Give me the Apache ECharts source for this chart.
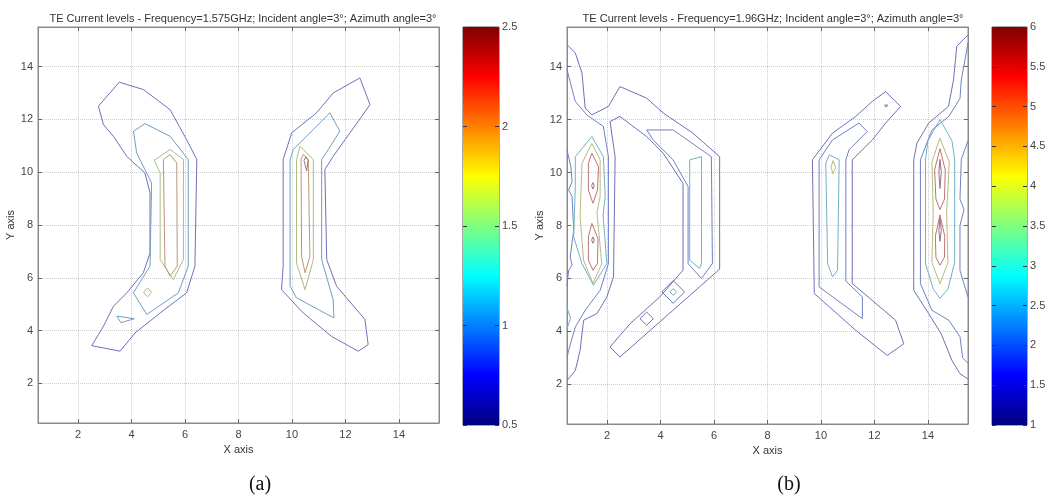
<!DOCTYPE html>
<html>
<head>
<meta charset="utf-8">
<title>TE Current levels</title>
<script src="https://cdn.jsdelivr.net/npm/echarts@6/dist/echarts.min.js"></script>
<style>
html, body { margin: 0; padding: 0; background: #fff; }
#main { width: 1050px; height: 495px; }
</style>
</head>
<body>
<div id="main"></div>
<script>
// axis ticks / colour bar ranges
const axisTicks = [2, 4, 6, 8, 10, 12, 14];
const cbRangeA = [0.5, 2.5];
const cbRangeB = [1, 6];

const titleA = 'TE Current levels - Frequency=1.575GHz; Incident angle=3°; Azimuth angle=3°';
const titleB = 'TE Current levels - Frequency=1.96GHz; Incident angle=3°; Azimuth angle=3°';

// ---- panel (a) contour paths (x, y in axis units)
const aL1 = [[3.54,13.41],[2.76,12.50],[2.95,11.80],[3.32,11.36],[3.82,10.60],[4.50,9.97],[4.69,9.22],[4.69,6.94],[4.44,6.19],[3.82,5.43],[3.32,4.92],[2.95,4.17],[2.51,3.43],[3.57,3.22],[4.13,3.91],[5.07,4.67],[6.06,5.43],[6.37,6.44],[6.44,10.48],[6.06,11.23],[5.44,12.37],[4.44,13.13]];
const aL2 = [[4.07,11.55],[4.50,11.84],[5.44,11.36],[6.12,10.48],[6.12,6.44],[5.75,5.43],[4.57,4.61],[4.07,5.43],[4.69,6.44],[4.75,9.59],[4.19,10.73]];
const aL3 = [[5.44,10.86],[5.94,10.48],[5.94,6.69],[5.56,5.93],[5.07,6.69],[5.07,9.97],[4.85,10.45]];
const aL4 = [[5.44,10.67],[5.69,10.35],[5.71,6.44],[5.44,6.06],[5.25,6.44],[5.19,10.48]];
const aLsmall = [[4.45,5.45],[4.6,5.62],[4.75,5.45],[4.6,5.28]];
const aLtri = [[3.45,4.55],[4.1,4.45],[3.6,4.3]];
const aR1 = [[12.54,13.57],[12.92,12.56],[12.17,11.49],[11.54,10.60],[11.23,10.10],[11.30,6.69],[11.67,5.68],[12.73,4.42],[12.85,3.47],[12.48,3.22],[11.48,3.78],[10.42,4.67],[9.61,5.55],[9.67,6.44],[9.67,10.48],[9.99,11.49],[10.92,12.25],[11.54,13.00]];
const aR2 = [[11.42,12.25],[11.79,11.55],[11.36,10.86],[11.11,10.48],[11.11,6.69],[11.54,5.17],[11.57,4.48],[10.17,5.24],[9.93,5.68],[9.93,10.48],[10.05,10.86]];
const aR3 = [[10.30,10.98],[10.80,10.48],[10.80,6.69],[10.49,5.55],[10.17,6.56],[10.17,10.48]];
const aR4 = [[10.42,10.67],[10.61,10.48],[10.67,6.81],[10.49,6.19],[10.36,6.81],[10.34,10.48]];
const aR5 = [[10.45,10.45],[10.52,10.58],[10.6,10.45],[10.55,10.05],[10.5,10.05]];

// ---- panel (b) contour paths
const bL1 = [[0.5,14.83],[0.81,14.52],[1.06,13.76],[1.18,12.44],[1.43,12.18],[2.05,12.50],[2.48,13.25],[3.48,12.81],[4.10,12.25],[5.21,11.49],[6.21,10.60],[6.21,6.35],[2.48,3.03],[2.11,3.41],[2.86,4.29],[3.97,5.30],[4.84,6.31],[4.84,9.59],[4.10,10.73],[3.48,11.36],[2.48,12.12],[2.11,11.93],[2.30,10.60],[2.24,6.06],[1.99,5.30],[1.62,4.67],[1.12,4.42],[0.99,3.28],[0.81,2.52],[0.5,2.14]];
const bL2 = [[0.5,13.89],[0.81,12.69],[1.24,12.18],[1.86,11.74],[2.05,10.60],[2.05,6.56],[1.74,5.55],[1.18,4.80],[0.81,4.16],[0.56,3.28],[0.5,3.0]];
const bLedge = [[0.5,10.85],[0.65,10.2],[0.69,9.66],[0.56,9.34],[0.69,9.1],[0.75,7.82],[0.62,6.81],[0.69,6.5],[0.56,6.3],[0.5,5.7]];
const bLsmall = [[0.5,4.9],[0.63,4.5],[0.5,4.1]];
const bL3 = [[1.43,11.36],[1.86,10.60],[1.93,9.09],[1.85,8.4],[1.99,6.56],[1.49,5.74],[1.06,6.56],[0.75,7.57],[0.81,9.47],[0.81,10.60]];
const bL4 = [[1.43,11.1],[1.74,10.48],[1.74,9.09],[1.62,8.5],[1.80,6.56],[1.47,5.81],[1.12,6.69],[0.99,8.33],[1.06,10.35]];
const bL5 = [[1.43,10.73],[1.68,10.22],[1.64,9.34],[1.47,8.84],[1.30,9.34],[1.30,10.35]];
const bL6 = [[1.43,8.08],[1.66,7.5],[1.64,6.56],[1.47,6.31],[1.30,6.69],[1.30,7.57]];
const bL7 = [[1.47,9.62],[1.52,9.5],[1.47,9.38],[1.42,9.5]];
const bL8 = [[1.47,7.57],[1.52,7.45],[1.47,7.33],[1.42,7.45]];
const bD2 = [[3.48,11.61],[4.47,11.61],[5.90,10.60],[5.94,6.56],[5.53,6.0],[5.03,6.56],[5.03,9.47],[4.47,10.48],[3.73,11.23]];
const bD3 = [[5.09,10.48],[5.53,10.60],[5.53,6.56],[5.46,6.38],[5.09,6.69]];
const bDia1 = [[4.05,5.49],[4.47,5.92],[4.9,5.49],[4.47,5.06]];
const bDia1in = [[4.35,5.49],[4.47,5.62],[4.6,5.49],[4.47,5.36]];
const bDia2 = [[3.23,4.48],[3.48,4.73],[3.73,4.48],[3.48,4.23]];
const bM1 = [[12.42,13.06],[12.98,12.50],[12.42,11.87],[11.92,11.23],[11.17,10.48],[11.17,5.81],[12.79,4.42],[13.10,3.53],[12.48,3.09],[11.30,4.04],[9.75,5.43],[9.68,10.48],[10.43,11.49],[11.30,12.12],[11.92,12.69]];
const bM2 = [[11.42,11.87],[11.73,11.55],[11.05,10.86],[10.93,10.48],[10.93,5.9],[11.55,5.30],[11.55,4.48],[9.93,5.68],[9.93,10.48],[10.43,11.23]];
const bM3 = [[10.31,10.67],[10.68,10.48],[10.62,6.31],[10.43,6.06],[10.25,6.56],[10.18,10.35]];
const bM4 = [[10.45,10.45],[10.55,10.2],[10.45,9.95],[10.38,10.2]];
const bMdot = [[12.38,12.55],[12.44,12.62],[12.5,12.55],[12.44,12.47]];
const bR1 = [[15.5,15.2],[15.08,14.77],[14.96,13.51],[14.77,12.50],[14.03,11.87],[13.59,11.11],[13.47,10.48],[13.47,5.55],[14.03,4.67],[14.5,3.9],[14.9,2.9],[15.2,2.4],[15.5,2.2]];
const bR2 = [[15.5,14.9],[15.25,13.5],[15.2,12.8],[14.78,12.12],[14.15,11.61],[13.72,10.48],[13.72,5.81],[14.15,4.80],[14.78,4.42],[15.2,3.8],[15.3,3.0],[15.5,2.8]];
const bRedge = [[15.5,11.2],[15.25,10.5],[15.2,9.0],[15.35,8.6],[15.2,8.0],[15.2,6.3],[15.35,5.8],[15.5,5.3]];
const bR3 = [[14.45,12.0],[14.0,11.2],[13.91,10.48],[13.91,6.56],[14.2,5.6],[14.45,5.25],[14.75,5.6],[15.0,6.6],[15.0,10.5],[14.9,11.2]];
const bR4 = [[14.45,11.3],[14.15,10.4],[14.2,8.5],[14.15,6.6],[14.45,5.8],[14.75,6.6],[14.7,8.5],[14.8,10.4]];
const bR5 = [[14.45,10.9],[14.25,10.1],[14.3,9.0],[14.45,8.6],[14.62,9.0],[14.65,10.1]];
const bR6 = [[14.45,8.4],[14.28,7.6],[14.3,6.8],[14.45,6.5],[14.62,6.8],[14.63,7.6]];
const bR7 = [[14.45,10.5],[14.41,10.0],[14.45,9.4],[14.5,10.0]];
const bR8 = [[14.45,8.3],[14.41,7.8],[14.45,7.4],[14.5,7.8]];

// [path, contour level, closed]
const contoursA = [
  [aL1, 0.7, true], [aL2, 1.05, true], [aL3, 1.65, true], [aL4, 2.0, true],
  [aLsmall, 1.65, true], [aLtri, 1.05, true],
  [aR1, 0.7, true], [aR2, 1.05, true], [aR3, 1.65, true], [aR4, 2.0, true], [aR5, 2.35, true]
];
const contoursB = [
  [bL1, 1.4, false], [bL2, 1.9, false], [bLedge, 1.9, false], [bLsmall, 2.7, false],
  [bL3, 2.7, true], [bL4, 4.0, true], [bL5, 5.3, true], [bL6, 5.3, true], [bL7, 5.8, true], [bL8, 5.8, true],
  [bD2, 1.9, true], [bD3, 2.7, true], [bDia1, 1.4, true], [bDia1in, 2.7, true], [bDia2, 1.4, true],
  [bM1, 1.4, true], [bM2, 1.9, true], [bM3, 2.7, true], [bM4, 4.0, true], [bMdot, 1.9, true],
  [bR1, 1.4, false], [bR2, 1.9, false], [bRedge, 1.9, false], [bR3, 2.7, true], [bR4, 4.0, true],
  [bR5, 5.3, true], [bR6, 5.3, true], [bR7, 5.8, true], [bR8, 5.8, true]
];

// jet colormap
function jet(t) {
  const c = v => Math.max(0, Math.min(1, v));
  return [c(1.5 - Math.abs(4 * t - 3)), c(1.5 - Math.abs(4 * t - 2)), c(1.5 - Math.abs(4 * t - 1))];
}
function rgb(a) { return 'rgb(' + a.map(v => Math.round(v)).join(',') + ')'; }
// the printed figure is washed out, contour lines look greyer than pure jet
function lineColor(level, range) {
  const j = jet((level - range[0]) / (range[1] - range[0]));
  const base = [160, 160, 170];
  return rgb(j.map((v, i) => v * 255 * 0.3 + base[i] * 0.7));
}
function jetStops() {
  const stops = [];
  for (let i = 0; i <= 16; i++) {
    const t = i / 16;
    stops.push({ offset: t, color: rgb(jet(1 - t).map(v => v * 255)) });
  }
  return stops;
}

const font = 'Liberation Sans, Arial, sans-serif';
const labelStyle = { color: '#444', fontSize: 11, fontFamily: font };

function plotAxesX(grid) {
  return [{
    type: 'value', gridIndex: grid, min: 0.5, max: 15.5, position: 'bottom',
    name: 'X axis', nameLocation: 'middle', nameGap: 21,
    nameTextStyle: { color: '#333', fontSize: 11, fontFamily: font },
    axisLine: { show: true, lineStyle: { color: '#8a8a8a' } },
    axisTick: { show: true, inside: true, length: 4, customValues: axisTicks, lineStyle: { color: '#666' } },
    axisLabel: Object.assign({ customValues: axisTicks, margin: 6 }, labelStyle),
    splitLine: { show: true, lineStyle: { color: '#cdcdcd', type: 'dotted', width: 1 } }
  }, {
    type: 'value', gridIndex: grid, min: 0.5, max: 15.5, position: 'top',
    axisLine: { show: true, lineStyle: { color: '#8a8a8a' } },
    axisTick: { show: true, inside: true, length: 4, customValues: axisTicks, lineStyle: { color: '#666' } },
    axisLabel: { show: false }, splitLine: { show: false }
  }];
}
function plotAxesY(grid) {
  return [{
    type: 'value', gridIndex: grid, min: 0.5, max: 15.5, position: 'left',
    name: 'Y axis', nameLocation: 'middle', nameGap: 17,
    nameTextStyle: { color: '#333', fontSize: 11, fontFamily: font },
    axisLine: { show: true, lineStyle: { color: '#8a8a8a' } },
    axisTick: { show: true, inside: true, length: 4, customValues: axisTicks, lineStyle: { color: '#666' } },
    axisLabel: Object.assign({ customValues: axisTicks, margin: 5 }, labelStyle),
    splitLine: { show: true, lineStyle: { color: '#cdcdcd', type: 'dotted', width: 1 } }
  }, {
    type: 'value', gridIndex: grid, min: 0.5, max: 15.5, position: 'right',
    axisLine: { show: true, lineStyle: { color: '#8a8a8a' } },
    axisTick: { show: true, inside: true, length: 4, customValues: axisTicks, lineStyle: { color: '#666' } },
    axisLabel: { show: false }, splitLine: { show: false }
  }];
}
function cbAxesY(grid, range) {
  return [{
    type: 'value', gridIndex: grid, min: range[0], max: range[1], interval: 0.5, position: 'right', z: 5,
    axisLine: { show: false },
    axisTick: { show: true, inside: true, length: 4, lineStyle: { color: '#333' } },
    axisLabel: Object.assign({ margin: 3 }, labelStyle),
    splitLine: { show: false }
  }, {
    type: 'value', gridIndex: grid, min: range[0], max: range[1], interval: 0.5, position: 'left', z: 5,
    axisLine: { show: false },
    axisTick: { show: true, inside: true, length: 4, lineStyle: { color: '#333' } },
    axisLabel: { show: false }, splitLine: { show: false }
  }];
}

const series = [];
function addContours(list, xi, yi, range) {
  list.forEach(([pts, level, closed]) => {
    series.push({
      type: 'line', xAxisIndex: xi, yAxisIndex: yi,
      data: closed ? pts.concat([pts[0]]) : pts,
      symbol: 'none', silent: true, clip: true, z: 3,
      lineStyle: { color: lineColor(level, range), width: 1 }
    });
  });
}
addContours(contoursA, 0, 0, cbRangeA);
addContours(contoursB, 2, 2, cbRangeB);

function addColorbar(xi, yi, range, stack) {
  series.push({
    type: 'bar', xAxisIndex: xi, yAxisIndex: yi, stack: stack, barWidth: '100%', silent: true,
    data: [range[0]], itemStyle: { color: 'rgba(0,0,0,0)' }
  });
  series.push({
    type: 'bar', xAxisIndex: xi, yAxisIndex: yi, stack: stack, barWidth: '100%', silent: true,
    data: [range[1] - range[0]],
    itemStyle: { color: { type: 'linear', x: 0, y: 0, x2: 0, y2: 1, colorStops: jetStops() } }
  });
}
addColorbar(4, 4, cbRangeA, 'cbA');
addColorbar(5, 6, cbRangeB, 'cbB');

const chart = echarts.init(document.getElementById('main'), null, { renderer: 'canvas' });
chart.setOption({
  animation: false,
  backgroundColor: '#fff',
  title: [
    { text: titleA, left: 238, top: 8, textAlign: 'center', textStyle: { fontSize: 11, fontWeight: 'normal', color: '#333', fontFamily: font } },
    { text: titleB, left: 768, top: 8, textAlign: 'center', textStyle: { fontSize: 11, fontWeight: 'normal', color: '#333', fontFamily: font } },
    { text: '(a)', left: 255, top: 470, textAlign: 'center', textStyle: { fontSize: 20, fontWeight: 'normal', color: '#111', fontFamily: 'Liberation Serif, Times New Roman, serif' } },
    { text: '(b)', left: 784, top: 470, textAlign: 'center', textStyle: { fontSize: 20, fontWeight: 'normal', color: '#111', fontFamily: 'Liberation Serif, Times New Roman, serif' } }
  ],
  grid: [
    { left: 38, top: 27, width: 401, height: 396, show: true, borderColor: '#8a8a8a', borderWidth: 1 },
    { left: 567, top: 27, width: 401, height: 397, show: true, borderColor: '#8a8a8a', borderWidth: 1 },
    { left: 463, top: 27, width: 36, height: 398, show: true, borderColor: '#555', borderWidth: 1 },
    { left: 992, top: 27, width: 35, height: 398, show: true, borderColor: '#555', borderWidth: 1 }
  ],
  xAxis: [].concat(
    plotAxesX(0), plotAxesX(1),
    [{ type: 'category', gridIndex: 2, data: ['cb'], show: false },
     { type: 'category', gridIndex: 3, data: ['cb'], show: false }]
  ),
  yAxis: [].concat(plotAxesY(0), plotAxesY(1), cbAxesY(2, cbRangeA), cbAxesY(3, cbRangeB)),
  series: series
});
</script>
</body>
</html>
